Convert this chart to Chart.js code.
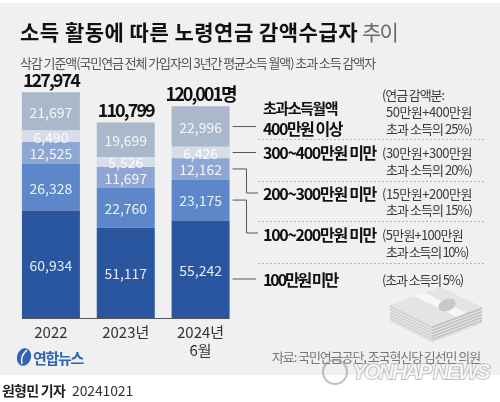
<!DOCTYPE html>
<html>
<head>
<meta charset="utf-8">
<script src="https://cdn.jsdelivr.net/npm/chart.js@4"></script>
<style>
  html, body { margin: 0; padding: 0; background: #fff; }
  #wrap { width: 500px; height: 402px; }
</style>
</head>
<body>
<div id="wrap"><canvas id="pension" width="500" height="402"></canvas></div>
<script>
// data (persons)
const years = [['2022'], ['2023년'], ['2024년', '6월']];
const under100 = [60934, 51117, 55242];
const from100to200 = [26328, 22760, 23175];
const from200to300 = [12525, 11697, 12162];
const from300to400 = [6490, 5526, 6426];
const over400 = [21697, 19699, 22996];

const tierNames = ['100만원 미만', '100~200만원 미만', '200~300만원 미만', '300~400만원 미만', '400만원 이상'];
const tierNotes = [
    ['(초과 소득의 5%)'],
    ['(5만원+100만원', '초과 소득의 10%)'],
    ['(15만원+200만원', '초과 소득의 15%)'],
    ['(30만원+300만원', '초과 소득의 20%)'],
    ['(연금 감액분:', '50만원+400만원', '초과 소득의 25%)']
];
const tierColors = ['#2a56a0', '#5d87c9', '#8ea6d4', '#d6dde9', '#a9b8cb'];

const KR = '"Noto Sans CJK KR", "Noto Sans", sans-serif';

// draw text, optionally squeezing/stretching it to a given width
function txt(ctx, s, x, y, font, color, align, w) {
    ctx.font = font;
    ctx.fillStyle = color;
    ctx.textAlign = align || 'left';
    ctx.textBaseline = 'middle';
    ctx.letterSpacing = '0px';
    if (w) {
        const m = ctx.measureText(s).width;
        ctx.letterSpacing = ((w - m) / s.length) + 'px';
    }
    ctx.fillText(s, x, y);
    ctx.letterSpacing = '0px';
}

function line(ctx, pts, color, dash) {
    ctx.save();
    ctx.strokeStyle = color;
    ctx.lineWidth = 1;
    if (dash) ctx.setLineDash(dash);
    ctx.beginPath();
    ctx.moveTo(pts[0][0], pts[0][1]);
    for (let i = 1; i < pts.length; i++) ctx.lineTo(pts[i][0], pts[i][1]);
    ctx.stroke();
    ctx.restore();
}

const backdrop = {
    id: 'backdrop',
    beforeDraw(chart) {
        const ctx = chart.ctx;
        ctx.save();
        ctx.fillStyle = '#ffffff';
        ctx.fillRect(0, 0, 500, 402);
        ctx.fillStyle = '#f0f0f0';
        ctx.fillRect(0, 3, 500, 372);
        ctx.restore();
    }
};

const annotations = {
    id: 'annotations',
    afterDatasetsDraw(chart) {
        const ctx = chart.ctx;
        ctx.save();

        // baseline
        const yBase = chart.scales.y.getPixelForValue(0);
        const first = chart.getDatasetMeta(0).data[0];
        const last = chart.getDatasetMeta(0).data[years.length - 1];
        line(ctx, [[first.x - first.width / 2, yBase + 0.5], [last.x + last.width / 2, yBase + 0.5]], '#555');

        // segment values
        chart.data.datasets.forEach((ds, di) => {
            chart.getDatasetMeta(di).data.forEach((bar, i) => {
                const mid = (bar.y + bar.base) / 2;
                txt(ctx, ds.data[i].toLocaleString('en-US'), bar.x, mid + 1,
                    '400 14px ' + KR, 'rgba(255,255,255,0.88)', 'center');
            });
        });

        // totals
        const topMeta = chart.getDatasetMeta(chart.data.datasets.length - 1);
        years.forEach((y, i) => {
            const total = chart.data.datasets.reduce((s, ds) => s + ds.data[i], 0);
            const bar = topMeta.data[i];
            const label = total.toLocaleString('en-US') + (i === years.length - 1 ? '명' : '');
            txt(ctx, label, bar.x, bar.y - 12.5, 'bold 18px ' + KR, '#111', 'center',
                i === years.length - 1 ? 70 : 56);
        });

        // right side legend with connectors
        const lastIdx = years.length - 1;
        const mids = chart.data.datasets.map((ds, di) => {
            const b = chart.getDatasetMeta(di).data[lastIdx];
            return (b.y + b.base) / 2;
        });
        const rowY = [280, 235, 194, 153, 129];
        const rowW = [74, 113, 113, 113, 79];
        const x0 = last.x + last.width / 2 + 3;
        line(ctx, [[x0, rowY[0] - 1], [256, rowY[0] - 1]], '#555');
        line(ctx, [[x0, mids[1]], [246.5, mids[1]], [246.5, rowY[1] - 2], [258, rowY[1] - 2]], '#555');
        line(ctx, [[x0, mids[2]], [246.5, mids[2]], [246.5, rowY[2] - 1], [258, rowY[2] - 1]], '#555');
        line(ctx, [[x0, mids[3]], [256, mids[3]]], '#555');
        line(ctx, [[x0, mids[4]], [256, mids[4]]], '#555');

        txt(ctx, '초과소득월액', 263, 108, 'bold 15px ' + KR, '#111', 'left', 74);
        tierNames.forEach((name, i) => {
            txt(ctx, name, 263, rowY[i], 'bold 16px ' + KR, '#111', 'left', rowW[i]);
        });

        const noteW = {
            '(초과 소득의 5%)': 81, '(5만원+100만원': 81, '초과 소득의 10%)': 82,
            '(15만원+200만원': 90, '초과 소득의 15%)': 86, '(30만원+300만원': 90,
            '초과 소득의 20%)': 86, '(연금 감액분:': 62, '50만원+400만원': 86, '초과 소득의 25%)': 86
        };
        const noteY = [[280], [235, 252], [194, 210], [153, 170], [95, 112, 129]];
        tierNotes.forEach((lines, i) => {
            lines.forEach((s, j) => {
                const x = s.startsWith('(') ? 382 : 386;
                txt(ctx, s, x, noteY[i][j], '400 13px ' + KR, '#3a3a3a', 'left', noteW[s]);
            });
        });

        [139, 181, 221, 263].forEach(y => line(ctx, [[258, y + 0.5], [484, y + 0.5]], '#b5b5b5', [2, 2]));

        ctx.restore();
    },
    afterDraw(chart) {
        const ctx = chart.ctx;
        ctx.save();

        // title
        txt(ctx, '소득 활동에 따른 노령연금 감액수급자', 20, 32, 'bold 21px ' + KR, '#111', 'left', 338);
        txt(ctx, '추이', 362, 32, '400 21px ' + KR, '#6a6a6a', 'left', 35);
        txt(ctx, '삭감 기준액(국민연금 전체 가입자의 3년간 평균소득 월액) 초과 소득 감액자', 20, 63,
            '400 13px ' + KR, '#555', 'left', 355);

        // banknote stack
        ctx.fillStyle = '#d2d2d2';
        ctx.beginPath();
        ctx.moveTo(390, 305); ctx.lineTo(432, 326); ctx.lineTo(432, 342); ctx.lineTo(390, 321); ctx.closePath();
        ctx.fill();
        ctx.fillStyle = '#c4c4c4';
        ctx.beginPath();
        ctx.moveTo(432, 326); ctx.lineTo(482, 307); ctx.lineTo(482, 323); ctx.lineTo(432, 342); ctx.closePath();
        ctx.fill();
        ctx.strokeStyle = '#ececec';
        ctx.lineWidth = 1;
        for (let k = 0; k < 5; k++) {
            ctx.beginPath();
            ctx.moveTo(390, 308 + k * 3); ctx.lineTo(432, 329 + k * 3); ctx.lineTo(482, 310 + k * 3);
            ctx.stroke();
        }
        ctx.fillStyle = '#e4e4e4';
        ctx.beginPath();
        ctx.moveTo(390, 305); ctx.lineTo(440, 287); ctx.lineTo(482, 307); ctx.lineTo(432, 326); ctx.closePath();
        ctx.fill();
        ctx.fillStyle = '#f7f7f7';
        ctx.beginPath();
        ctx.moveTo(414, 296); ctx.lineTo(424, 292); ctx.lineTo(466, 313); ctx.lineTo(456, 317); ctx.closePath();
        ctx.fill();
        ctx.fillStyle = '#c8c8c8';
        ctx.beginPath();
        ctx.ellipse(447, 305, 9, 6, -0.4, 0, Math.PI * 2);
        ctx.fill();

        // source
        txt(ctx, '자료: 국민연금공단, 조국혁신당 김선민 의원', 272, 357, '400 13px ' + KR, '#777', 'left', 208);

        // agency logo
        ctx.fillStyle = '#2f63b3';
        ctx.beginPath();
        ctx.ellipse(24, 357, 7, 9, 0.3, 0, Math.PI * 2);
        ctx.fill();
        ctx.strokeStyle = '#fff';
        ctx.lineWidth = 1.5;
        ctx.beginPath();
        ctx.moveTo(27, 350); ctx.quadraticCurveTo(20, 356, 22, 364);
        ctx.stroke();
        txt(ctx, '연합뉴스', 33, 358, 'bold 15px ' + KR, '#2f63b3', 'left', 50);

        // watermark
        ctx.strokeStyle = 'rgba(140,140,140,0.55)';
        ctx.lineWidth = 2;
        ctx.beginPath();
        ctx.arc(335, 372, 12, 0, Math.PI * 2);
        ctx.stroke();
        ctx.font = 'italic bold 22px "Liberation Sans", sans-serif';
        ctx.textAlign = 'left';
        ctx.textBaseline = 'middle';
        ctx.letterSpacing = ((136 - ctx.measureText('YONHAP NEWS').width) / 11) + 'px';
        ctx.lineWidth = 1.5;
        ctx.strokeText('YONHAP NEWS', 352, 373);
        ctx.fillStyle = 'rgba(255,255,255,0.7)';
        ctx.fillText('YONHAP NEWS', 352, 373);
        ctx.letterSpacing = '0px';

        // byline
        txt(ctx, '원형민 기자', 2, 391, 'bold 14px ' + KR, '#222', 'left', 63);
        txt(ctx, '20241021', 72, 391, '400 14px ' + KR, '#333', 'left', 61);

        ctx.restore();
    }
};

const series = [under100, from100to200, from200to300, from300to400, over400];

new Chart(document.getElementById('pension'), {
    type: 'bar',
    data: {
        labels: years,
        datasets: series.map((vals, i) => ({
            label: tierNames[i],
            data: vals,
            backgroundColor: tierColors[i],
            borderWidth: 0,
            categoryPercentage: 1,
            barPercentage: 0.775
        }))
    },
    options: {
        responsive: false,
        animation: false,
        devicePixelRatio: 1,
        layout: { padding: { top: 71, left: 13.5, right: 262, bottom: 0 } },
        plugins: {
            legend: { display: false },
            tooltip: { enabled: false }
        },
        scales: {
            x: {
                stacked: true,
                grid: { display: false, drawTicks: false },
                border: { display: false },
                ticks: {
                    padding: 5,
                    color: '#333',
                    font: { family: KR, size: 15, lineHeight: 1.22 }
                },
                afterFit(scale) { scale.height = 84; }
            },
            y: {
                stacked: true,
                display: false,
                min: 0,
                max: 140000
            }
        }
    },
    plugins: [backdrop, annotations]
});
</script>
</body>
</html>
